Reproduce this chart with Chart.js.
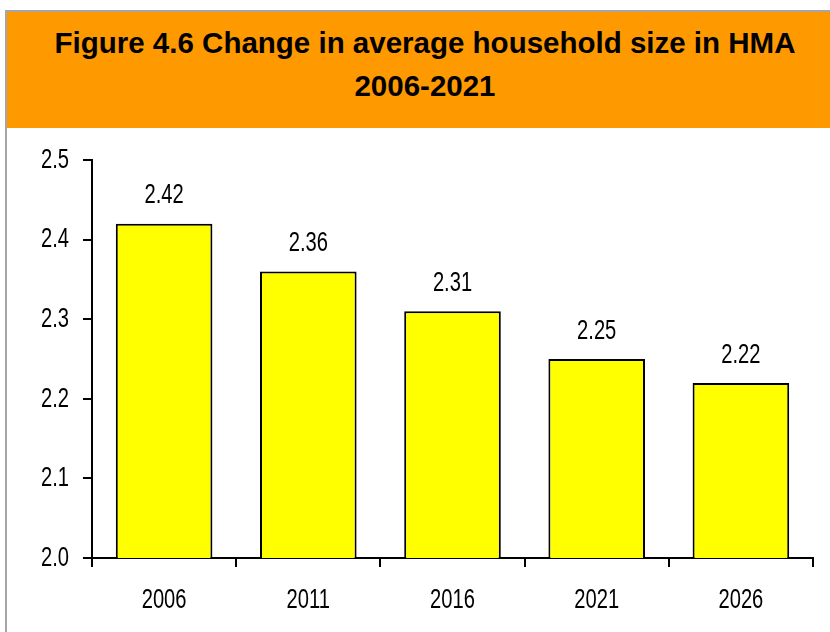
<!DOCTYPE html>
<html>
<head>
<meta charset="utf-8">
<script src="https://cdn.jsdelivr.net/npm/chart.js@4.4.1/dist/chart.umd.min.js"></script>
<style>
  html, body { margin: 0; padding: 0; background: #fff; width: 830px; height: 632px; overflow: hidden; }
  #frame {
    position: absolute; left: 5px; top: 10px; width: 900px; height: 700px;
    border-left: 2px solid #a6a6a6; border-top: 2px solid #a6a6a6;
  }
  #header {
    position: absolute; left: 7px; top: 12px; width: 836px; height: 116px;
    background: #ff9900; box-sizing: border-box; padding-top: 9px;
    font: bold 29.5px "Liberation Sans", Arial, sans-serif; line-height: 43px;
    text-align: center; color: #000;
  }
  #wrap { position: absolute; left: 0; top: 128px; width: 830px; height: 504px; }
</style>
</head>
<body>
<div id="frame"></div>
<div id="header">Figure 4.6 Change in average household size in HMA<br>2006-2021</div>
<div id="wrap"><canvas id="c" width="830" height="504"></canvas></div>
<script>
// Average household size by year
const years = ['2006', '2011', '2016', '2021', '2026'];
const householdSize = [2.42, 2.36, 2.31, 2.25, 2.22];
const yMin = 2.0;
const yMax = 2.5;
const yStep = 0.1;

// Narrow-looking axis text: regular sans squeezed horizontally
const textFont = '28px "Liberation Sans", Arial, sans-serif';
const squeeze = 0.72;

function narrowText(ctx, text, x, y, align) {
  ctx.save();
  ctx.translate(x, y);
  ctx.scale(squeeze, 1);
  ctx.textAlign = align;
  ctx.fillText(text, 0, 0);
  ctx.restore();
}

// Tick labels for both axes plus the value written above each bar
const narrowLabels = {
  id: 'narrowLabels',
  afterDraw(chart) {
    const ctx = chart.ctx;
    const xs = chart.scales.x;
    const ys = chart.scales.y;
    ctx.save();
    ctx.font = textFont;
    ctx.fillStyle = '#000';
    ctx.textBaseline = 'middle';
    ys.ticks.forEach((t, i) => {
      narrowText(ctx, Number(t.value).toFixed(1), ys.right - 23, ys.getPixelForTick(i), 'right');
    });
    xs.ticks.forEach((t, i) => {
      narrowText(ctx, years[i], xs.getPixelForTick(i), xs.top + 42, 'center');
    });
    chart.getDatasetMeta(0).data.forEach((bar, i) => {
      narrowText(ctx, householdSize[i].toFixed(2), bar.x, bar.y - 28, 'center');
    });
    ctx.restore();
  }
};

new Chart(document.getElementById('c'), {
  type: 'bar',
  data: {
    labels: years,
    datasets: [{
      data: householdSize,
      backgroundColor: '#ffff00',
      borderColor: '#000',
      borderWidth: 2,
      borderSkipped: false,
      barPercentage: 0.67,
      categoryPercentage: 1.0
    }]
  },
  options: {
    responsive: false,
    animation: false,
    layout: { padding: { top: 32, right: 17, left: 0, bottom: 0 } },
    plugins: { legend: { display: false }, tooltip: { enabled: false }, title: { display: false } },
    scales: {
      x: {
        grid: { display: true, drawOnChartArea: false, drawTicks: true, tickLength: 9, color: '#000', lineWidth: 2, offset: true },
        border: { display: true, color: '#000', width: 2 },
        ticks: { display: false },
        afterFit(scale) { scale.height = 74; }
      },
      y: {
        min: yMin,
        max: yMax,
        grid: { display: true, drawOnChartArea: false, drawTicks: true, tickLength: 9, color: '#000', lineWidth: 2 },
        border: { display: true, color: '#000', width: 2 },
        ticks: { display: false, stepSize: yStep },
        afterFit(scale) { scale.width = 92; }
      }
    }
  },
  plugins: [narrowLabels]
});
</script>
</body>
</html>
